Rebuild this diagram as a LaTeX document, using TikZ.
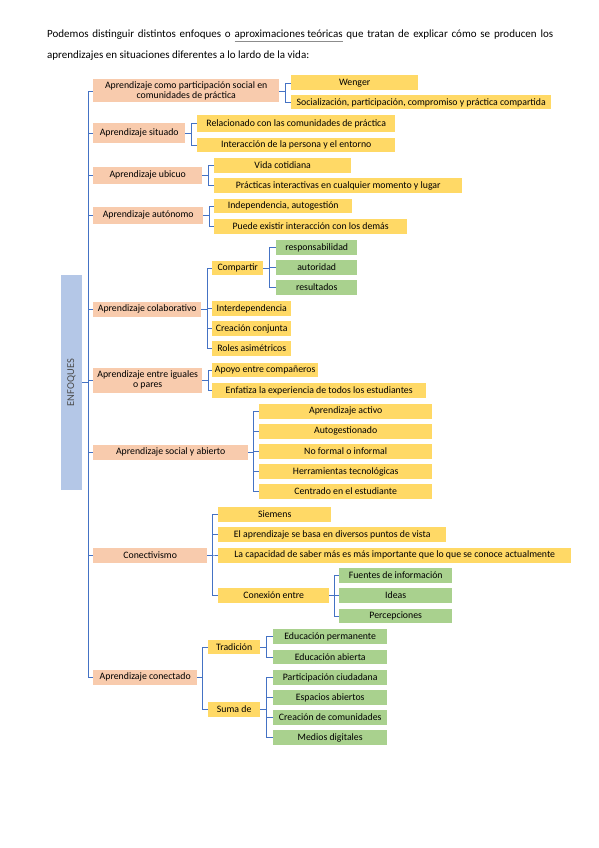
\documentclass[tikz,border=0pt]{standalone}
\usepackage{fontspec}
\setmainfont{Carlito}
\usepackage{tikz}
\usetikzlibrary{positioning}
\definecolor{salmon}{HTML}{F8CBAD}
\definecolor{amarillo}{HTML}{FFD966}
\definecolor{verde}{HTML}{A9D18E}
\definecolor{azulclaro}{HTML}{B4C7E7}
\definecolor{azul}{HTML}{4472C4}

\begin{document}
\begin{tikzpicture}[x=1pt, y=-1pt,
  caja/.style = {anchor = west, inner sep = 0pt, minimum height = 15pt, align = center,
                 font = \fontsize{9.8}{10.5}\selectfont},
  n1/.style = {caja, fill = salmon, minimum height = 17pt},
  n2/.style = {caja, fill = amarillo},
  n3/.style = {caja, fill = verde},
  rama/.style = {azul, line width = .9pt}]
\useasboundingbox (0,0) rectangle (599,848);

%%%%%%%%%%%%%%% texto %%%%%%%%%%%%%%%%
\node [anchor = west, inner sep = 0pt, font = \fontsize{11}{13}\selectfont] (t1) at (47,36)
  {\makebox[506pt][s]{Podemos distinguir distintos enfoques o \textcolor{black!45}{\underline{\textcolor{black}{aproximaciones teóricas}}} que tratan de explicar cómo se producen los}};
\node [anchor = west, inner sep = 0pt, font = \fontsize{11}{13}\selectfont] (t2) at (47,56)
  {aprendizajes en situaciones diferentes a lo lardo de la vida:};

%%%%%%%%%%%%%%% raiz %%%%%%%%%%%%%%%%
\node [fill = azulclaro, inner sep = 0pt, minimum width = 21pt, minimum height = 215pt,
  text = black!70, font = \fontsize{10.5}{10.5}\selectfont] (enf) at (71.5,382.5) {\rotatebox{90}{ENFOQUES}};

%%%%%%%%%%%%%%% nivel 1 %%%%%%%%%%%%%%%%
\node [n1, minimum width = 186pt, minimum height = 23pt] (a1) at (93,91)
  {Aprendizaje como participación social en\\comunidades de práctica};
\node [n1, minimum width = 92pt, minimum height = 20pt] (a2) at (93,133) {Aprendizaje situado};
\node [n1, minimum width = 109pt] (a3) at (93,175) {Aprendizaje ubicuo};
\node [n1, minimum width = 110pt] (a4) at (93,215) {Aprendizaje autónomo};
\node [n1, minimum width = 108pt, minimum height = 15pt] (a5) at (93,309) {Aprendizaje colaborativo};
\node [n1, minimum width = 109pt, minimum height = 25pt] (a6) at (93,380) {Aprendizaje entre iguales\\o pares};
\node [n1, minimum width = 155pt, minimum height = 15pt] (a7) at (93,452) {Aprendizaje social y abierto};
\node [n1, minimum width = 114pt, minimum height = 15pt] (a8) at (93,555) {Conectivismo};
\node [n1, minimum width = 104pt, minimum height = 15pt] (a9) at (93,677) {Aprendizaje conectado};

\foreach \c in {a1,a2,a3,a4,a5,a6,a7,a8,a9}
	\draw [rama] (enf.east) -- ++(6,0) |- (\c.west);

%%%%%%%%%%%%%%% 1 %%%%%%%%%%%%%%%%
\node [n2, minimum width = 127pt] (b11) at (291,83) {Wenger};
\node [n2, minimum width = 260pt, minimum height = 14pt] (b12) at (291,102.5) {Socialización, participación, compromiso y práctica compartida};
\foreach \c in {b11,b12}
	\draw [rama] (a1.east) -- ++(6,0) |- (\c.west);

%%%%%%%%%%%%%%% 2 %%%%%%%%%%%%%%%%
\node [n2, minimum width = 198pt, minimum height = 17pt] (b21) at (197,123.5) {Relacionado con las comunidades de práctica};
\node [n2, minimum width = 198pt, minimum height = 14pt] (b22) at (197,145) {Interacción de la persona y el entorno};
\foreach \c in {b21,b22}
	\draw [rama] (a2.east) -- ++(6,0) |- (\c.west);

%%%%%%%%%%%%%%% 3 %%%%%%%%%%%%%%%%
\node [n2, minimum width = 137pt] (b31) at (214,165.5) {Vida cotidiana};
\node [n2, minimum width = 248pt] (b32) at (214,185.5) {Prácticas interactivas en cualquier momento y lugar};
\foreach \c in {b31,b32}
	\draw [rama] (a3.east) -- ++(6,0) |- (\c.west);

%%%%%%%%%%%%%%% 4 %%%%%%%%%%%%%%%%
\node [n2, minimum width = 138pt, minimum height = 14pt] (b41) at (214,206) {Independencia, autogestión};
\node [n2, minimum width = 193pt] (b42) at (214,226.5) {Puede existir interacción con los demás};
\foreach \c in {b41,b42}
	\draw [rama] (a4.east) -- ++(6,0) |- (\c.west);

%%%%%%%%%%%%%%% 5 %%%%%%%%%%%%%%%%
\node [n2, minimum width = 51pt, minimum height = 14pt] (b51) at (212,268) {Compartir};
\node [n2, minimum width = 79pt] (b52) at (212,308.5) {Interdependencia};
\node [n2, minimum width = 79pt] (b53) at (212,328.5) {Creación conjunta};
\node [n2, minimum width = 79pt] (b54) at (212,348.5) {Roles asimétricos};
\foreach \c in {b51,b52,b53,b54}
	\draw [rama] (a5.east) -- ++(6,0) |- (\c.west);

\node [n3, minimum width = 81pt] (c1) at (276,247.5) {responsabilidad};
\node [n3, minimum width = 81pt] (c2) at (276,267.5) {autoridad};
\node [n3, minimum width = 81pt] (c3) at (276,287.5) {resultados};
\foreach \c in {c1,c2,c3}
	\draw [rama] (b51.east) -- ++(6,0) |- (\c.west);

%%%%%%%%%%%%%%% 6 %%%%%%%%%%%%%%%%
\node [n2, minimum width = 106pt, minimum height = 14pt] (b61) at (212,370) {Apoyo entre compañeros};
\node [n2, minimum width = 214pt] (b62) at (212,390.5) {Enfatiza la experiencia de todos los estudiantes};
\foreach \c in {b61,b62}
	\draw [rama] (a6.east) -- ++(6,0) |- (\c.west);

%%%%%%%%%%%%%%% 7 %%%%%%%%%%%%%%%%
\node [n2, minimum width = 173pt] (b71) at (259,411) {Aprendizaje activo};
\node [n2, minimum width = 173pt] (b72) at (259,431) {Autogestionado};
\node [n2, minimum width = 173pt] (b73) at (259,451.5) {No formal o informal};
\node [n2, minimum width = 173pt] (b74) at (259,471.5) {Herramientas tecnológicas};
\node [n2, minimum width = 173pt] (b75) at (259,491.5) {Centrado en el estudiante};
\foreach \c in {b71,b72,b73,b74,b75}
	\draw [rama] (a7.east) -- ++(5,0) |- (\c.west);

%%%%%%%%%%%%%%% 8 %%%%%%%%%%%%%%%%
\node [n2, minimum width = 113pt] (b81) at (218,514.5) {Siemens};
\node [n2, minimum width = 228pt] (b82) at (218,534.5) {El aprendizaje se basa en diversos puntos de vista};
\node [n2, minimum width = 353pt] (b83) at (218,555) {La capacidad de saber más es más importante que lo que se conoce actualmente};
\node [n2, minimum width = 111pt] (b84) at (218,595.5) {Conexión entre};
\foreach \c in {b81,b82,b83,b84}
	\draw [rama] (a8.east) -- ++(5,0) |- (\c.west);

\node [n3, minimum width = 113pt] (c4) at (339,575.5) {Fuentes de información};
\node [n3, minimum width = 113pt] (c5) at (339,595.5) {Ideas};
\node [n3, minimum width = 113pt, minimum height = 14pt] (c6) at (339,616) {Percepciones};
\foreach \c in {c4,c5,c6}
	\draw [rama] (b84.east) -- ++(5,0) |- (\c.west);

%%%%%%%%%%%%%%% 9 %%%%%%%%%%%%%%%%
\node [n2, minimum width = 52pt, minimum height = 14pt] (b91) at (208,647) {Tradición};
\node [n2, minimum width = 52pt] (b92) at (208,709.5) {Suma de};
\foreach \c in {b91,b92}
	\draw [rama] (a9.east) -- ++(5,0) |- (\c.west);

\node [n3, minimum width = 114pt] (c7) at (273,636.5) {Educación permanente};
\node [n3, minimum width = 114pt, minimum height = 14pt] (c8) at (273,657) {Educación abierta};
\foreach \c in {c7,c8}
	\draw [rama] (b91.east) -- ++(6,0) |- (\c.west);

\node [n3, minimum width = 114pt] (c9) at (273,677.5) {Participación ciudadana};
\node [n3, minimum width = 114pt] (c10) at (273,697.5) {Espacios abiertos};
\node [n3, minimum width = 114pt] (c11) at (273,717.5) {Creación de comunidades};
\node [n3, minimum width = 114pt] (c12) at (273,737.5) {Medios digitales};
\foreach \c in {c9,c10,c11,c12}
	\draw [rama] (b92.east) -- ++(6,0) |- (\c.west);

\end{tikzpicture}
\end{document}
